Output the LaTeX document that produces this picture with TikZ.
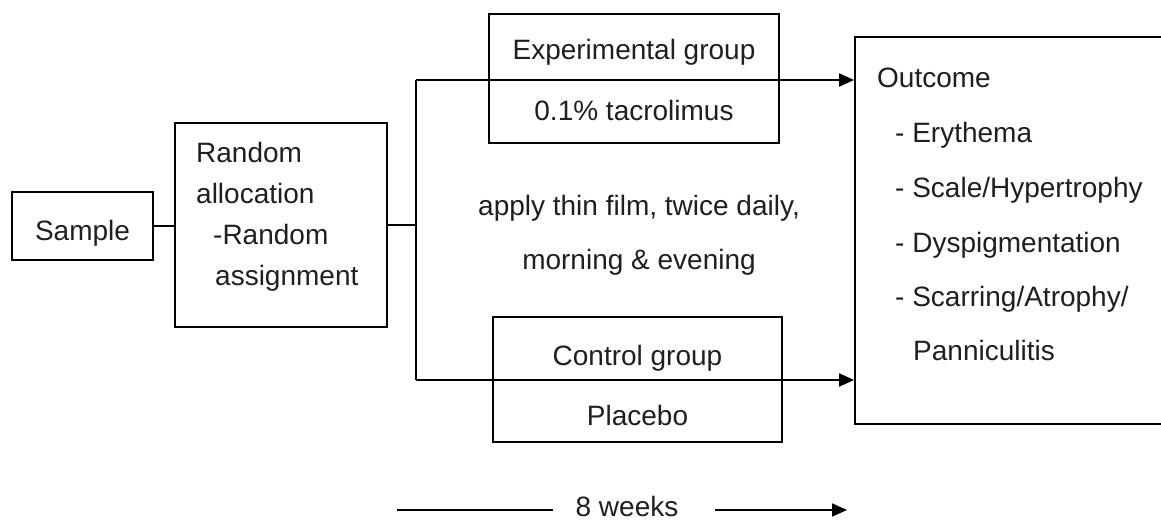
\documentclass[tikz,border=0pt]{standalone}
\usepackage{fontspec}
\setmainfont{Liberation Sans}
\usetikzlibrary{arrows.meta}
\begin{document}
\begin{tikzpicture}[x=1pt,y=-1pt,
  every node/.style={font=\fontsize{28}{33}\selectfont, text=black!88},
  box/.style={draw, line width=1.8pt, rectangle, inner sep=0pt},
  txt/.style={inner sep=0pt},
  link/.style={line width=1.8pt},
  arr/.style={line width=1.8pt, -{Triangle[length=15pt,width=13pt]}}]
\useasboundingbox[fill=white] (0,0) rectangle (1161,522);
% boxes
\node[box, minimum width=141pt, minimum height=68pt] (sample) at (82.5,226) {};
\node[box, minimum width=212pt, minimum height=204pt] (rand) at (281,225) {};
\node[box, minimum width=290pt, minimum height=129pt] (exp) at (634,78.5) {};
\node[box, minimum width=289pt, minimum height=125pt] (ctrl) at (637.5,379.5) {};
\node[box, minimum width=330pt, minimum height=387pt] (out) at (1020,230.5) {};
% texts
\node[txt, anchor=base] (tsample) at (82.5,240) {Sample};
\node[txt, anchor=base west] (r1) at (196,162) {Random};
\node[txt, anchor=base west] (r2) at (196,203) {allocation};
\node[txt, anchor=base west] (r3) at (213,244) {-Random};
\node[txt, anchor=base west] (r4) at (215,285) {assignment};
\node[txt, anchor=base] (e1) at (634,59) {Experimental group};
\node[txt, anchor=base] (e2) at (634,120) {0.1\% tacrolimus};
\node[txt, anchor=base] (c1) at (637.5,365) {Control group};
\node[txt, anchor=base] (c2) at (637.5,425) {Placebo};
\node[txt, anchor=base] (a1) at (639,215) {apply thin film, twice daily,};
\node[txt, anchor=base] (a2) at (639,269) {morning \& evening};
\node[txt, anchor=base west] (o1) at (877,87) {Outcome};
\node[txt, anchor=base west] (o2) at (895,142) {- Erythema};
\node[txt, anchor=base west] (o3) at (895,197) {- Scale/Hypertrophy};
\node[txt, anchor=base west] (o4) at (895,252) {- Dyspigmentation};
\node[txt, anchor=base west] (o5) at (895,306) {- Scarring/Atrophy/};
\node[txt, anchor=base west] (o6) at (913,360) {Panniculitis};
\node[txt, anchor=base] (weeks) at (627,516) {8 weeks};
% connectors
\coordinate (vtop) at (416,80);
\coordinate (vbot) at (416,380);
\coordinate (wl) at (397,510);
\coordinate (wm1) at (553,510);
\coordinate (wm2) at (715,510);
\coordinate (wr) at (847,510);
\draw[link] (sample.east) -- (sample.east -| rand.west);
\draw[link] (rand.east) -- (rand.east -| vtop);
\draw[link] (vtop) -- (vbot);
\draw[arr] (vtop) -- (vtop -| out.west);
\draw[arr] (vbot) -- (vbot -| out.west);
\draw[link] (wl) -- (wm1);
\draw[arr] (wm2) -- (wr);
\end{tikzpicture}
\end{document}
